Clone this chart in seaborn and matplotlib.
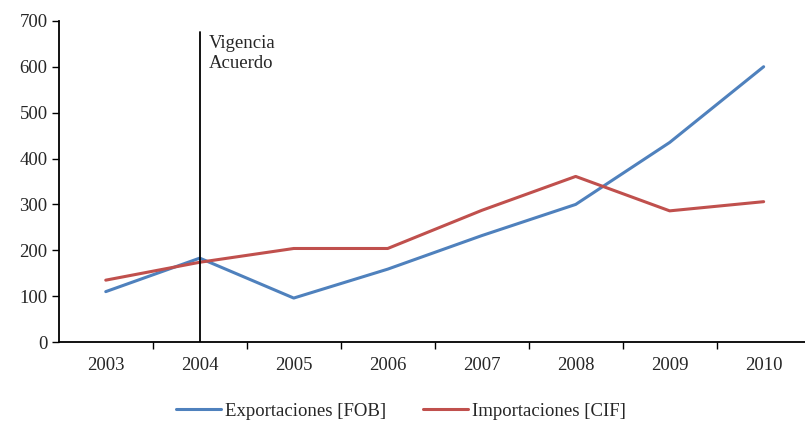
import numpy as np
import pandas as pd
import matplotlib.pyplot as plt
import seaborn as sns

# datos
anios = ['2003', '2004', '2005', '2006', '2007', '2008', '2009', '2010']
exportaciones = [110, 183, 96, 159, 232, 300, 435, 600]
importaciones = [135, 174, 204, 204, 287, 361, 286, 306]
series = ['Exportaciones [FOB]', 'Importaciones [CIF]']

df = pd.DataFrame({
    'anio': anios * 2,
    'valor': exportaciones + importaciones,
    'serie': [series[0]] * len(anios) + [series[1]] * len(anios),
})

sns.set_style('white')
plt.rcParams['font.family'] = ['Liberation Serif', 'DejaVu Serif']

fig = plt.figure(figsize=(8.05, 4.25), dpi=100)
ax = fig.add_axes([0.073, 0.195, 0.934, 0.756])

sns.lineplot(data=df, x='anio', y='valor', hue='serie', sort=False,
             palette=['#4F81BD', '#C0504D'], linewidth=2.2, ax=ax)

#línea de vigencia del acuerdo
ax.axvline(1, ymin=0, ymax=0.965, color='black', linewidth=1.3)
ax.text(1.1, 670, 'Vigencia\nAcuerdo', fontsize=13.5, va='top', ha='left',
        linespacing=1.3)

ax.set_xlim(-0.5, 7.5)
ax.set_ylim(0, 700)
ax.set_yticks(np.arange(0, 701, 100))
ax.set_xticks(np.arange(len(anios)))
ax.set_xticklabels(anios)
ax.set_xticks(np.arange(0.5, len(anios), 1), minor=True)
ax.tick_params(axis='x', which='major', length=0, pad=11, labelsize=13.5)
ax.tick_params(axis='x', which='minor', length=5, width=1, direction='out',
               bottom=True, color='black')
ax.tick_params(axis='y', length=5, width=1, direction='out', left=True,
               labelsize=13.5, color='black', pad=3)
ax.set_xlabel('')
ax.set_ylabel('')

for s in ['top', 'right']:
    ax.spines[s].set_visible(False)
for s in ['left', 'bottom']:
    ax.spines[s].set_color('black')
    ax.spines[s].set_linewidth(1.3)

ax.legend(loc='upper center', bbox_to_anchor=(0.455, -0.135), ncol=2,
          frameon=False, fontsize=13.5, handlelength=2.4, columnspacing=2.0,
          handletextpad=0.2)

plt.savefig('out.png', dpi=100)
